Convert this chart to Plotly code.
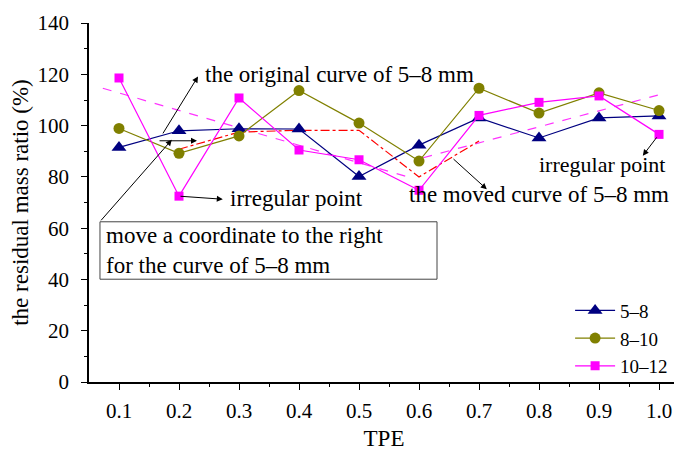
import plotly.graph_objects as go

tpe = [0.1, 0.2, 0.3, 0.4, 0.5, 0.6, 0.7, 0.8, 0.9, 1.0]
s58 = [91.5, 98.0, 98.8, 98.7, 80.2, 92.4, 103.0, 95.2, 103.0, 103.8]
s810 = [98.9, 89.2, 96.0, 113.7, 101.0, 86.2, 114.6, 104.9, 112.8, 105.9]
s1012 = [118.6, 72.5, 110.8, 90.5, 86.7, 74.8, 104.0, 109.1, 111.6, 96.6]
moved_x = [0.2, 0.3, 0.4, 0.5, 0.6, 0.7]
moved_y = [90.8, 97.5, 98.2, 98.2, 80.0, 94.0]
trend1_x = [0.073, 0.577]
trend1_y = [114.6, 80.3]
trend2_x = [0.607, 0.998]
trend2_y = [87.5, 111.9]
y_ticks = [0, 20, 40, 60, 80, 100, 120, 140]

FONT = "Liberation Serif"
fig = go.Figure()
fig.add_trace(go.Scatter(x=trend1_x, y=trend1_y, mode="lines", showlegend=False,
                         line=dict(color="#ff33ff", width=1.2, dash="dash")))
fig.add_trace(go.Scatter(x=trend2_x, y=trend2_y, mode="lines", showlegend=False,
                         line=dict(color="#ff33ff", width=1.2, dash="dash")))
fig.add_trace(go.Scatter(x=moved_x, y=moved_y, mode="lines", showlegend=False,
                         line=dict(color="#ff0000", width=1.2, dash="dashdot")))
fig.add_trace(go.Scatter(x=tpe, y=s58, name="5–8", mode="lines+markers",
                         line=dict(color="#000080", width=1.2),
                         marker=dict(symbol="triangle-up", size=13, color="#000080")))
fig.add_trace(go.Scatter(x=tpe, y=s810, name="8–10", mode="lines+markers",
                         line=dict(color="#808000", width=1.2),
                         marker=dict(symbol="circle", size=11, color="#808000")))
fig.add_trace(go.Scatter(x=tpe, y=s1012, name="10–12", mode="lines+markers",
                         line=dict(color="#ff00ff", width=1.2),
                         marker=dict(symbol="square", size=9, color="#ff00ff")))

afont = dict(family=FONT, size=23, color="black")
ann = []
def arrow(hx, hy, tx, ty):
    ann.append(dict(x=hx, y=hy, ax=tx, ay=ty, xref="x", yref="y", axref="x", ayref="y",
                    showarrow=True, arrowhead=2, arrowsize=1.2, arrowwidth=1, arrowcolor="black", text=""))
arrow(0.2317, 119.2, 0.1717, 96.4)
arrow(0.23, 94.1, 0.165, 94.1)
arrow(0.188, 94.5, 0.068, 62.5)
arrow(0.273, 71.3, 0.2, 72.5)
arrow(0.713, 75.2, 0.655, 87.5)
arrow(0.973, 88.3, 0.998, 96.0)

def label(x, y, t, size=23):
    ann.append(dict(x=x, y=y, xref="x", yref="y", text=t, showarrow=False,
                    xanchor="left", yanchor="middle", font=dict(family=FONT, size=size, color="black")))
label(0.24, 120.0, "the original curve of 5–8 mm")
label(0.2817, 71.5, "irregular point")
label(0.58, 73.2, "the moved curve of 5–8 mm")
label(0.797, 84.8, "irregular point", 22)
ann.append(dict(x=0.075, y=51.3, xref="x", yref="y", showarrow=False, align="left",
                xanchor="left", yanchor="middle", font=afont,
                text="move a coordinate to the right<br>for the curve of 5–8 mm"))

fig.add_shape(type="rect", xref="x", yref="y", x0=0.0683, x1=0.63, y0=40.1, y1=62.5,
              line=dict(color="#444", width=1), fillcolor="rgba(0,0,0,0)")

fig.update_layout(
    width=674, height=450, margin=dict(l=81, r=3, t=11, b=76),
    paper_bgcolor="white", plot_bgcolor="white",
    font=dict(family=FONT, size=21, color="black"),
    annotations=ann,
    legend=dict(x=0.99, y=0.121, xanchor="right", yanchor="middle", bgcolor="rgba(0,0,0,0)",
                font=dict(family=FONT, size=19), tracegroupgap=0, itemwidth=40),
    xaxis=dict(range=[0.05, 1.0333], tickvals=tpe, ticktext=[f"{v:.1f}" for v in tpe],
               showgrid=False, zeroline=False, showline=True, linecolor="black", linewidth=1.5,
               ticks="outside", ticklen=6, tickwidth=1.2, tickcolor="black",
               minor=dict(tickvals=[0.15, 0.25, 0.35, 0.45, 0.55, 0.65, 0.75, 0.85, 0.95],
                          ticks="outside", ticklen=3, tickwidth=1, tickcolor="black"),
               tickfont=dict(size=21), ticklabelstandoff=3,
               title=dict(text="TPE", font=dict(size=23), standoff=8)),
    yaxis=dict(range=[0, 140.05], tickvals=y_ticks, ticktext=[str(v) for v in y_ticks],
               showgrid=False, zeroline=False, showline=True, linecolor="black", linewidth=1.5,
               ticks="outside", ticklen=6, tickwidth=1.2, tickcolor="black",
               minor=dict(tickvals=[10, 30, 50, 70, 90, 110, 130],
                          ticks="outside", ticklen=3, tickwidth=1, tickcolor="black"),
               tickfont=dict(size=21), ticklabelstandoff=8, ticklabeloverflow="allow",
               title=dict(text="the residual mass ratio (%)", font=dict(size=23), standoff=8)),
)
fig.write_html("out.html")
